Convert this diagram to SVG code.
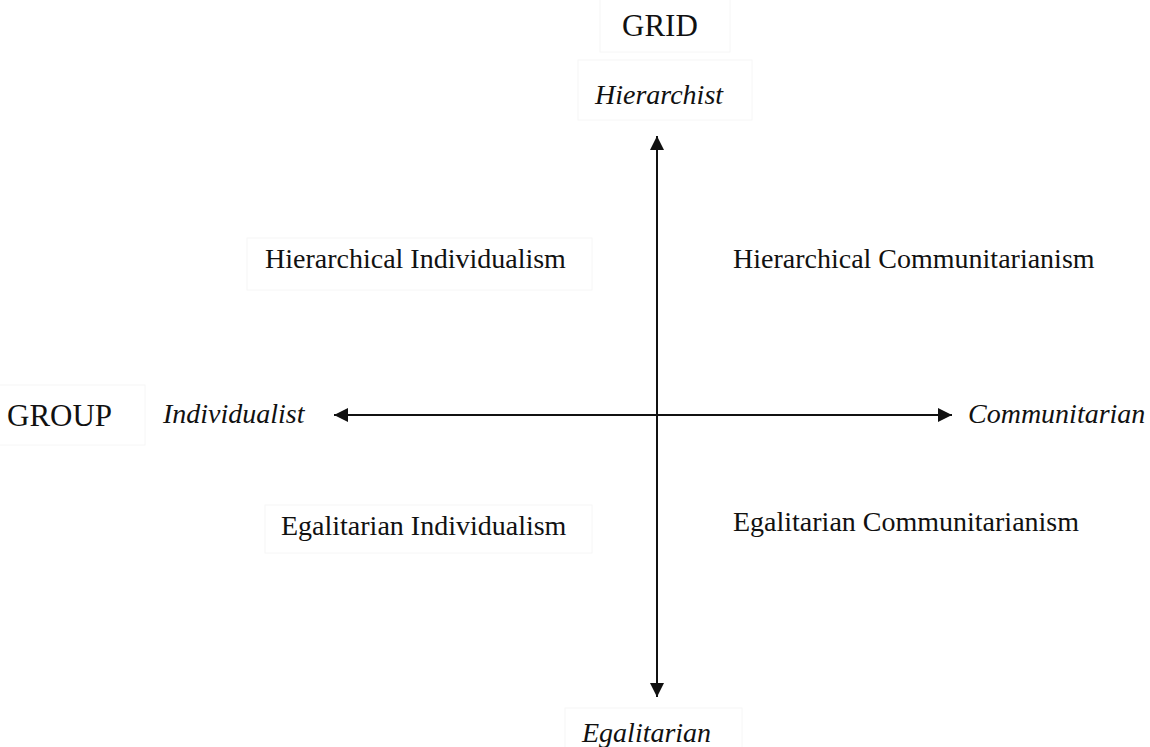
<svg xmlns="http://www.w3.org/2000/svg" width="1150" height="747" viewBox="0 0 1150 747">
<style>
.t{font-family:"Liberation Serif","Times New Roman",serif;font-size:28px;fill:#111}
.i{font-style:italic}
.big{font-size:31px}
.box{fill:none;stroke:#f6f6f6;stroke-width:1}
.ax{stroke:#111;stroke-width:2;fill:none}
</style>
<defs>
<marker id="ah" viewBox="0 0 10 10" refX="10" refY="5" markerWidth="14" markerHeight="14" markerUnits="userSpaceOnUse" orient="auto">
<path d="M0,0 L10,5 L0,10 Z" fill="#111"/>
</marker>
</defs>
<rect width="1150" height="747" fill="#fff"/>
<g id="connectors">
<line class="ax" x1="657" y1="416" x2="657" y2="136" marker-end="url(#ah)"/>
<line class="ax" x1="657" y1="416" x2="657" y2="697" marker-end="url(#ah)"/>
<line class="ax" x1="657" y1="415" x2="334" y2="415" marker-end="url(#ah)"/>
<line class="ax" x1="657" y1="415" x2="952" y2="415" marker-end="url(#ah)"/>
</g>
<g id="grid"><rect class="box" x="600" y="-1" width="130" height="53"/><text class="t big" x="622" y="36">GRID</text></g>
<g id="hierarchist"><rect class="box" x="578" y="60" width="174" height="60"/><text class="t i" x="595" y="104">Hierarchist</text></g>
<g id="group"><rect class="box" x="-1" y="385" width="146" height="60"/><text class="t big" x="7" y="426">GROUP</text></g>
<g id="individualist"><text class="t i" x="163" y="423">Individualist</text></g>
<g id="communitarian"><text class="t i" x="968" y="423">Communitarian</text></g>
<g id="egalitarian"><rect class="box" x="565" y="708" width="177" height="40"/><text class="t i" x="582" y="742">Egalitarian</text></g>
<g id="hier-ind"><rect class="box" x="247" y="238" width="345" height="52"/><text class="t" x="265" y="268">Hierarchical Individualism</text></g>
<g id="hier-com"><text class="t" x="733" y="268">Hierarchical Communitarianism</text></g>
<g id="egal-ind"><rect class="box" x="265" y="505" width="327" height="48"/><text class="t" x="281" y="535">Egalitarian Individualism</text></g>
<g id="egal-com"><text class="t" x="733" y="531">Egalitarian Communitarianism</text></g>
</svg>
